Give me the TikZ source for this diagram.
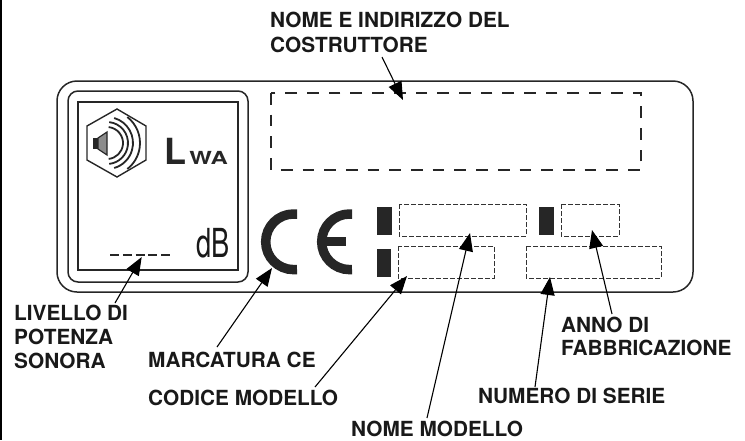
\documentclass[tikz,border=0pt]{standalone}
\usepackage{fontspec}
\setmainfont{TeX Gyre Heros}
\usepackage{tikz}
\usetikzlibrary{arrows.meta, positioning, calc}

\begin{document}
\begin{tikzpicture}[
  x=1pt, y=-1pt,
  lbl/.style={font=\bfseries\fontsize{20.8}{24}\selectfont, align=left,
              anchor=base west, inner sep=0pt, text=black!90},
  dbox/.style={draw=black!80, dash pattern=on 4.6pt off 2.4pt, line width=0.9pt},
  bigbox/.style={draw=black!85, dash pattern=on 11.7pt off 10pt, line width=1.1pt},
  bar/.style={fill=black!85, draw=none},
  call/.style={-{Triangle[length=18pt,width=14pt]}, line width=1.1pt, black},
  >=stealth
]
\useasboundingbox (0,0) rectangle (745,440);
\fill[black] (0,0) rectangle (2,440);
% plate
\draw[line width=1.5pt, rounded corners=20pt, black!85] (57,81) rectangle (693,292);
\draw[line width=1.5pt, rounded corners=10pt, black!85] (68,91) rectangle (248,282);
\draw[line width=1.5pt, black!85] (78,102) rectangle (238,270);
% sound symbol
\draw[line width=1.4pt, black!85] (117,109) -- (146,126) -- (146,160) -- (117,177)
  -- (87,160) -- (87,126) -- cycle;
\fill[black!85] (93,138) rectangle (98,149);
\draw[line width=1.2pt, black!85, fill=black!45] (98,138) -- (107,132) -- (107,155) -- (98,149) -- cycle;
\foreach \rad/\ang in {16/84, 21/84, 26/74, 33/52}
  \draw[line width=1.8pt, black!85] ({107+\rad*cos(\ang)},{143-\rad*sin(\ang)})
    arc[start angle=\ang, end angle=-\ang, radius=\rad, y radius=-\rad];
\node[inner sep=0pt, anchor=base west, font=\bfseries\fontsize{36}{36}\selectfont, text=black!85]
  (ell) at (164,164) {L};
\node[inner sep=0pt, anchor=base west, font=\bfseries\fontsize{18}{18}\selectfont, text=black!85,
  xscale=1.33] (wa) at (189,164) {WA};
\node[inner sep=0pt, anchor=base west, font=\fontsize{40}{40}\selectfont, text=black!90,
  xscale=0.68] (db) at (196,257) {dB};
\coordinate (levl) at (110,255);
\coordinate (levr) at (170,255);
\draw[line width=2.6pt, black!85, dash pattern=on 9pt off 3.8pt] (levl) -- (levr);
% CE mark
\draw[line width=9.5pt, black!85] (297,214) -- (293.5,214)
  arc[start angle=90, end angle=270, radius=27.8, y radius=-27.8] -- (297,269.5);
\draw[line width=9.5pt, black!85] (352,214) -- (349.5,214)
  arc[start angle=90, end angle=270, radius=27.8, y radius=-27.8] -- (352,269.5);
\fill[black!85] (325,237) rectangle (345.7,246);
% fields
\draw[bigbox] (271,93) rectangle (641,170);
\draw[dbox] (399,204) rectangle (526,236);
\draw[dbox] (398,246) rectangle (494,278);
\draw[dbox] (561,204) rectangle (619,236);
\draw[dbox] (526,246) rectangle (661,278);
\fill[bar] (377,207) rectangle (392,235);
\fill[bar] (377,249) rectangle (391,277);
\fill[bar] (539,207) rectangle (554,235);
% labels
\node[lbl] (costr) at (270,27) {NOME E INDIRIZZO DEL};
\node[lbl] (costrb) at (270,52) {COSTRUTTORE};
\node[lbl] (lwa) at (14,320) {LIVELLO DI};
\node[lbl] (lwab) at (14,344) {POTENZA};
\node[lbl] (lwac) at (14,368) {SONORA};
\node[lbl] (ce) at (148,367) {MARCATURA CE};
\node[lbl] (cod) at (148,405) {CODICE MODELLO};
\node[lbl] (nom) at (351,436) {NOME MODELLO};
\node[lbl] (ser) at (478,403) {NUMERO DI SERIE};
\node[lbl] (anno) at (561,332) {ANNO DI};
\node[lbl] (annob) at (561,355) {FABBRICAZIONE};
% arrows
\coordinate (tcostr) at (403,100);
\coordinate (tlev) at (141.7,257);
\coordinate (tce) at (272,268);
\coordinate (tcod) at (407,276);
\coordinate (tnom) at (470,233);
\coordinate (tser) at (550,277);
\coordinate (tanno) at (592,230);
\draw[call] (382,57) -- (tcostr);
\draw[call] (115,303) -- (tlev);
\draw[call] (217,347) -- (tce);
\draw[call] (315,387) -- (tcod);
\draw[call] (427,418) -- (tnom);
\draw[call] (535,387) -- (tser);
\draw[call] (612,314) -- (tanno);
\end{tikzpicture}
\end{document}
